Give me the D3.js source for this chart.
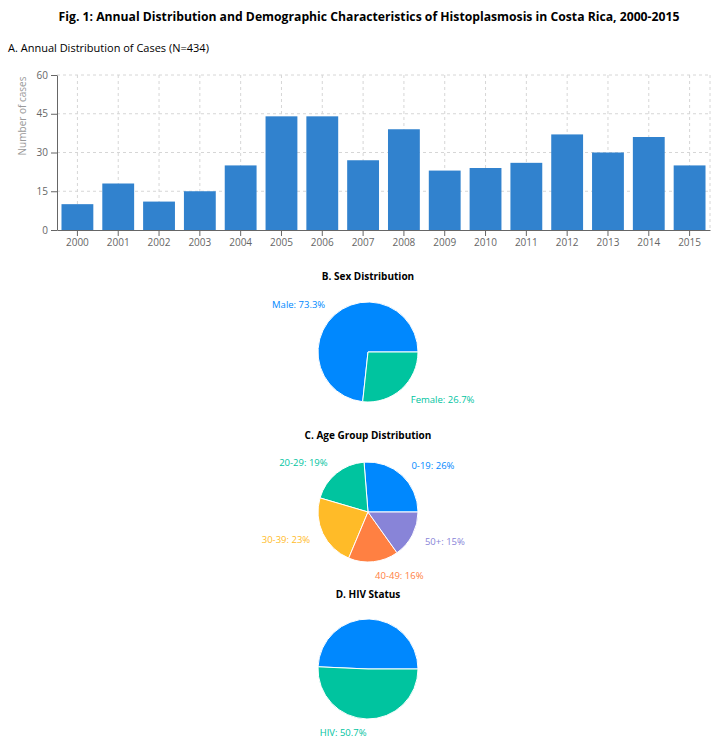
<!DOCTYPE html>
<html>
<head>
<meta charset="utf-8">
<script src="https://cdn.jsdelivr.net/npm/d3@7"></script>
<style>
  body { margin: 0; background: #fff; font-family: "Open Sans", "Noto Sans", sans-serif; }
  .grid line { stroke: #d6d6d6; stroke-dasharray: 3 3; }
  .axis path, .axis line { stroke: #666; }
  .axis text { fill: #666; font-size: 10px; font-family: "Open Sans", sans-serif; }
</style>
</head>
<body>
<svg id="chart" width="719" height="744"></svg>
<script>
// data
var years = ["2000","2001","2002","2003","2004","2005","2006","2007","2008","2009","2010","2011","2012","2013","2014","2015"];
var cases = [10, 18, 11, 15, 25, 44, 44, 27, 39, 23, 24, 26, 37, 30, 36, 25];
var yTicks = [0, 15, 30, 45, 60];

var sexLabels = ["Male", "Female"];
var sexValues = [73.3, 26.7];

var ageLabels = ["0-19", "20-29", "30-39", "40-49", "50+"];
var ageValues = [26, 19, 23, 16, 15];

var hivLabels = ["No HIV", "HIV"];
var hivValues = [49.3, 50.7];

var pieColors = ["#0088FE", "#00C49F", "#FFBB28", "#FF8042", "#8884d8"];

var svg = d3.select("svg#chart");

svg.append("text")
    .attr("x", 369)
    .attr("y", 21)
    .attr("text-anchor", "middle")
    .style("font-size", "12.2px")
    .style("font-weight", "bold")
    .text("Fig. 1: Annual Distribution and Demographic Characteristics of Histoplasmosis in Costa Rica, 2000-2015");

svg.append("text")
    .attr("x", 8)
    .attr("y", 52)
    .style("font-size", "11px")
    .text("A. Annual Distribution of Cases (N=434)");

// --- bar chart
var margin = {top: 75, left: 57},
    width = 653,
    height = 155;

var x = d3.scaleBand().domain(years).range([0, width]).paddingInner(0.22).paddingOuter(0.11);
var y = d3.scaleLinear().domain([0, 60]).range([height, 0]);

var g = svg.append("g")
    .attr("transform", "translate(" + margin.left + "," + margin.top + ")");

var grid = g.append("g").attr("class", "grid");
grid.selectAll("line.h")
    .data(yTicks.slice(1))
  .enter().append("line")
    .attr("class", "h")
    .attr("x1", 0).attr("x2", width)
    .attr("y1", function(d) { return y(d); })
    .attr("y2", function(d) { return y(d); });
grid.selectAll("line.v")
    .data(years)
  .enter().append("line")
    .attr("class", "v")
    .attr("x1", function(d) { return x(d) + x.bandwidth() / 2; })
    .attr("x2", function(d) { return x(d) + x.bandwidth() / 2; })
    .attr("y1", 0).attr("y2", height);
grid.append("line")
    .attr("x1", width).attr("x2", width)
    .attr("y1", 0).attr("y2", height);

g.selectAll("rect.bar")
    .data(years)
  .enter().append("rect")
    .attr("class", "bar")
    .attr("x", function(d) { return x(d); })
    .attr("width", x.bandwidth())
    .attr("y", function(d, i) { return y(cases[i]); })
    .attr("height", function(d, i) { return height - y(cases[i]); })
    .attr("fill", "#3182ce");

g.append("g")
    .attr("class", "axis")
    .attr("transform", "translate(0," + height + ")")
    .call(d3.axisBottom(x).tickSizeOuter(0).tickPadding(3));

g.append("g")
    .attr("class", "axis")
    .call(d3.axisLeft(y).tickValues(yTicks).tickSizeOuter(0).tickPadding(3));

svg.append("text")
    .attr("transform", "translate(26,116) rotate(-90)")
    .attr("text-anchor", "middle")
    .style("font-size", "10px")
    .attr("fill", "#999")
    .text("Number of cases");

// --- pies (start at 3 o'clock, counterclockwise)
function drawPie(title, titleY, cy, labels, values, showLabel) {
  var cx = 368, r = 50;
  svg.append("text")
      .attr("x", cx)
      .attr("y", titleY)
      .attr("text-anchor", "middle")
      .style("font-size", "10px")
      .style("font-weight", "bold")
      .text(title);

  var pie = d3.pie().sort(null)
      .startAngle(Math.PI / 2)
      .endAngle(Math.PI / 2 - 2 * Math.PI);
  var arcs = pie(values);
  var arc = d3.arc().innerRadius(0).outerRadius(r);

  var pg = svg.append("g").attr("transform", "translate(" + cx + "," + cy + ")");
  pg.selectAll("path")
      .data(arcs)
    .enter().append("path")
      .attr("d", arc)
      .attr("fill", function(d, i) { return pieColors[i]; })
      .attr("stroke", "#fff")
      .attr("stroke-width", 1);

  pg.selectAll("text")
      .data(arcs.filter(function(d, i) { return showLabel[i]; }))
    .enter().append("text")
      .each(function(d) {
        var a = (d.startAngle + d.endAngle) / 2,
            lx = Math.sin(a) * (r + 14),
            ly = -Math.cos(a) * (r + 14);
        d3.select(this)
            .attr("x", lx)
            .attr("y", ly)
            .attr("text-anchor", lx > 0 ? "start" : "end")
            .attr("dominant-baseline", "central");
      })
      .attr("fill", function(d) { return pieColors[d.index]; })
      .style("font-size", "9.5px")
      .text(function(d) {
        return labels[d.index] + ": " + values[d.index] + "%";
      });
}

drawPie("B. Sex Distribution", 280, 352, sexLabels, sexValues, [true, true]);
drawPie("C. Age Group Distribution", 439, 512, ageLabels, ageValues, [true, true, true, true, true]);
drawPie("D. HIV Status", 598, 669, hivLabels, hivValues, [false, true]);
</script>
</body>
</html>
